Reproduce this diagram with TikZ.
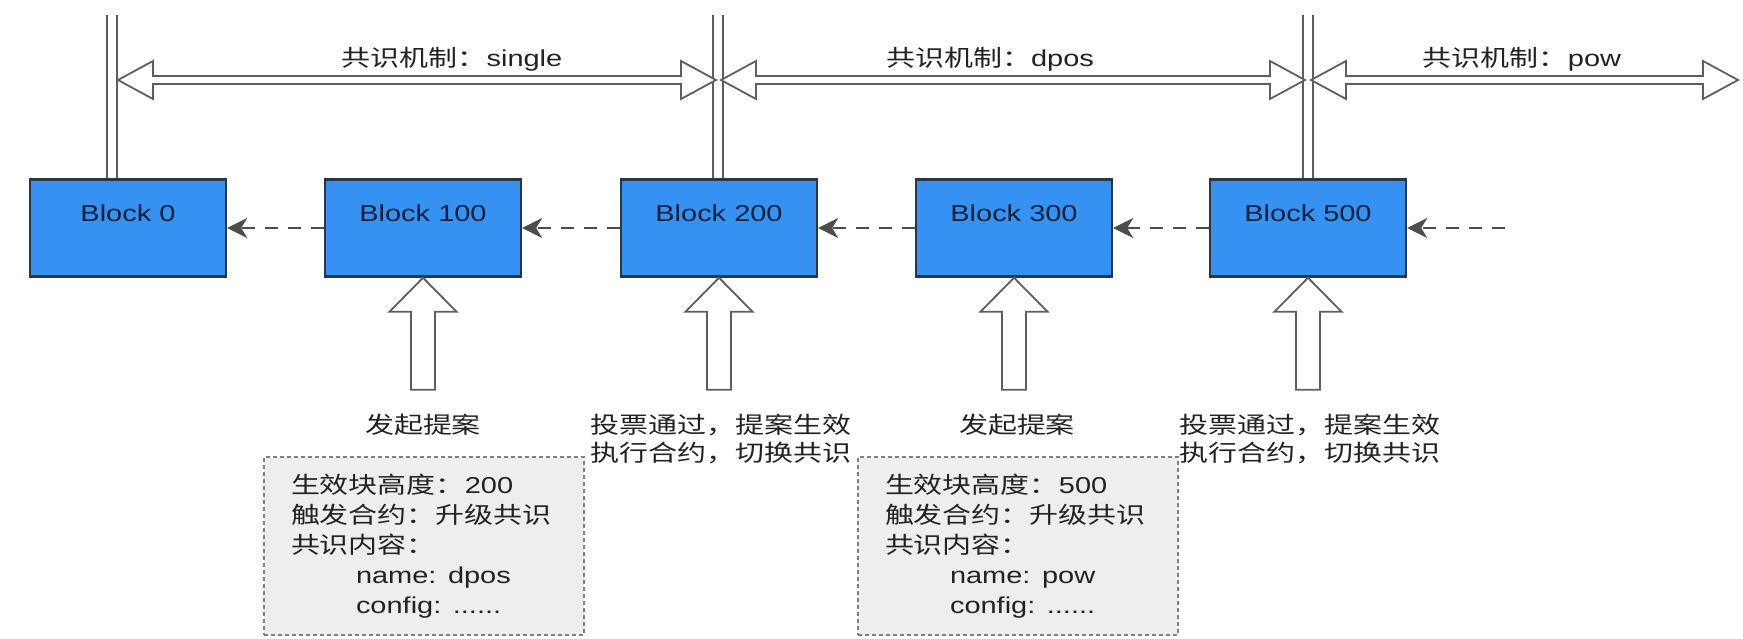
\documentclass[tikz,border=0pt]{standalone}
\usepackage{fontspec}
\setmainfont{Liberation Sans}[FakeStretch=1.26]
\newfontfamily\cjk{Noto Sans CJK SC}[FakeStretch=1.26]
\usepackage{tikz}
\usetikzlibrary{positioning}
\usetikzlibrary{shapes,arrows,calc}
\usetikzlibrary{arrows.meta}
\usepackage{color}

\definecolor{blockfill}{HTML}{3592F2}
\definecolor{blockline}{HTML}{2C3542}
\definecolor{blocktext}{HTML}{10203A}
\definecolor{linkgray}{HTML}{5E5E5E}
\definecolor{dashgray}{HTML}{4D4D4D}
\definecolor{notefill}{HTML}{EEEEEE}
\definecolor{notedash}{HTML}{808080}
\definecolor{labelgray}{HTML}{222222}

\begin{document}
\begin{tikzpicture}[x=0.5pt, y=-0.5pt,
    block/.style={rectangle, draw=blockline, line width=1.2pt, fill=blockfill,
        minimum width=98pt, minimum height=48.5pt, text height=8pt, text depth=15pt,
        font=\fontsize{11.5}{14}\selectfont, text=blocktext},
    epoch/.style={draw=linkgray, line width=1pt, double=white, double distance=4pt},
    flex/.style={draw=linkgray, line width=0.9pt, fill=white, line join=miter},
    backref/.style={draw=dashgray, line width=1.3pt, dash pattern=on 6.5pt off 5pt,
        -{Stealth[length=10pt, width=10pt, inset=3pt]}},
    note/.style={rectangle, draw=notedash, dash pattern=on 2pt off 1.5pt, line width=0.7pt,
        fill=notefill, minimum width=160pt, minimum height=89pt, text width=133pt,
        inner xsep=13.5pt, align=left, font=\fontsize{11.5}{15}\selectfont, text=labelgray},
    lbl/.style={font=\fontsize{11.5}{14}\selectfont, text=labelgray}]
    \useasboundingbox (0,0) rectangle (1743,638);

    % blocks
    \path
        node (b0)   at (128,228)  [block] {Block 0}
        node (b100) at (423,228)  [block] {Block 100}
        node (b200) at (719,228)  [block] {Block 200}
        node (b300) at (1014,228) [block] {Block 300}
        node (b500) at (1308,228) [block] {Block 500};

    % consensus switch lines
    \coordinate (l0)   at (112,15);
    \coordinate (l200) at (718,15);
    \coordinate (l500) at (1308,15);
    \draw[epoch] (l0) -- (l0 |- b0.north);
    \draw[epoch] (l200) -- (l200 |- b200.north);
    \draw[epoch] (l500) -- (l500 |- b500.north);

    % consensus periods
    \coordinate (s0) at (118,80);  \coordinate (e0) at (716,80);
    \coordinate (s1) at (721,80);  \coordinate (e1) at (1305,80);
    \coordinate (s2) at (1311,80); \coordinate (e2) at (1738,80);
    \foreach \a/\b in {s0/e0, s1/e1, s2/e2}
        \draw[flex] (\a) -- ++(35,-19) -- ++(0,15) -- ($(\b)+(-35,-4)$) -- ++(0,-15)
            -- (\b) -- ++(-35,19) -- ++(0,-15) -- ($(\a)+(35,4)$) -- ++(0,15) -- cycle;
    \path
        node (m0) at (452,59)  [lbl] {{\cjk 共识机制：}single}
        node (m1) at (990,59)  [lbl] {{\cjk 共识机制：}dpos}
        node (m2) at (1522,59) [lbl] {{\cjk 共识机制：}pow};

    % chain links
    \coordinate (tail) at (1505,228);
    \draw[backref] (b100) -- (b0);
    \draw[backref] (b200) -- (b100);
    \draw[backref] (b300) -- (b200);
    \draw[backref] (b500) -- (b300);
    \draw[backref] (tail) -- (b500);

    % proposals and votes
    \foreach \b in {b100,b200,b300,b500}
        \draw[flex] (\b.south) -- ++(33.5,34) -- ++(-21.5,0) -- ++(0,78) -- ++(-24,0)
            -- ++(0,-78) -- ++(-21.5,0) -- cycle;
    \path
        node (p100) at (423,425)  [lbl] {\cjk 发起提案}
        node (p300) at (1017,425) [lbl] {\cjk 发起提案}
        node (v200) at (721,439)  [lbl, align=left] {\cjk 投票通过，提案生效\\ \cjk 执行合约，切换共识}
        node (v500) at (1310,439) [lbl, align=left] {\cjk 投票通过，提案生效\\ \cjk 执行合约，切换共识};

    % proposal contents
    \path
        node (n100) at (424,546) [note] {{\cjk 生效块高度：}200\\
            {\cjk 触发合约：升级共识}\\
            {\cjk 共识内容：}\\
            \hspace*{32.5pt}name: dpos\\
            \hspace*{32.5pt}config: ......}
        node (n300) at (1018,546) [note] {{\cjk 生效块高度：}500\\
            {\cjk 触发合约：升级共识}\\
            {\cjk 共识内容：}\\
            \hspace*{32.5pt}name: pow\\
            \hspace*{32.5pt}config: ......};
\end{tikzpicture}
\end{document}
